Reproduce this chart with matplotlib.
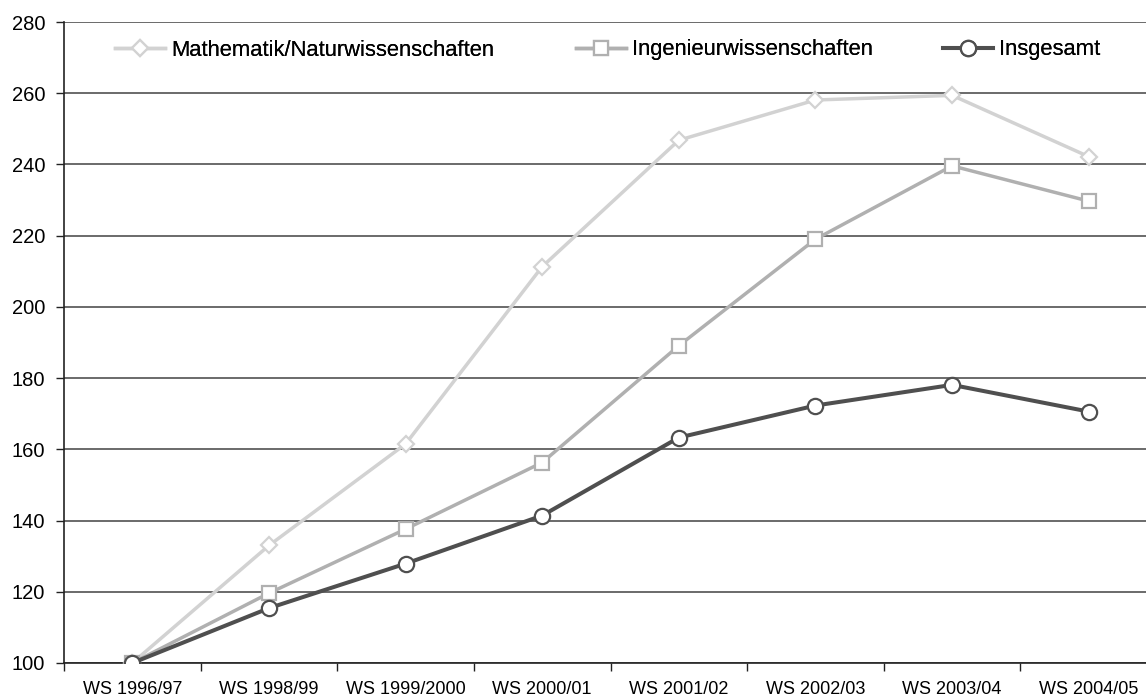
import matplotlib
matplotlib.use("Agg")
import matplotlib.pyplot as plt
import numpy as np

plt.rcParams['font.family'] = ['Liberation Sans', 'DejaVu Sans']

semesters = ["WS 1996/97", "WS 1998/99", "WS 1999/2000", "WS 2000/01",
             "WS 2001/02", "WS 2002/03", "WS 2003/04", "WS 2004/05"]
math_nat = [100, 133, 161.5, 211.3, 246.8, 258.1, 259.4, 242.2]
ingenieur = [100, 119.6, 137.6, 156.3, 189.1, 219.0, 239.6, 229.7]
insgesamt = [100, 115.4, 127.9, 141.4, 163.3, 172.3, 178.1, 170.6]

W, H = 1146, 697
fig = plt.figure(figsize=(W / 100, H / 100), dpi=100)
left, right, top, bottom = 64, 1157, 22, 663
ax = fig.add_axes([left / W, (H - bottom) / H, (right - left) / W, (bottom - top) / H])

x = np.arange(len(semesters))

series = [
    ("Mathematik/Naturwissenschaften", math_nat, "#d2d2d2", "D", 8.5, 2.5),
    ("Ingenieurwissenschaften", ingenieur, "#b0b0b0", "s", 10.5, 2.5),
    ("Insgesamt", insgesamt, "#4f4f4f", "o", 11, 2.9),
]
handles = []
for label, vals, col, mk, ms, lw in series:
    ln, = ax.plot(x, vals, color=col, lw=lw, marker=mk, ms=ms,
                  mfc="white", mec=col, mew=1.6, label=label, zorder=3,
                  solid_joinstyle="miter")
    handles.append(ln)

ax.set_xlim(-0.5, len(semesters) - 0.5)
ax.set_ylim(100, 280)
ax.set_yticks(np.arange(100, 281, 20))
ax.yaxis.grid(True, color="#6a6a6a", lw=1.4)
ax.set_axisbelow(True)

ax.set_xticks(x)
ax.set_xticklabels(semesters, fontsize=13)
ax.set_xticks(np.arange(-0.5, len(semesters) + 0.5, 1), minor=True)
ax.tick_params(axis="x", which="major", length=0, pad=13)
ax.tick_params(axis="x", which="minor", length=6, width=1, color="#222222")
ax.tick_params(axis="y", length=6, width=1, color="#222222", labelsize=14.5, pad=7.5)

for s in ["top", "right"]:
    ax.spines[s].set_visible(False)
ax.spines["left"].set_color("#222222")
ax.spines["bottom"].set_color("#222222")
ax.spines["left"].set_linewidth(1.2)
ax.spines["bottom"].set_linewidth(1.2)

# legend entries laid out along the top band of the plot
legend_pos = [115, 576, 943]
ly = (H - 50) / H
for h, px in zip(handles, legend_pos):
    lg = fig.legend(handles=[h], loc="center left", bbox_to_anchor=(px / W, ly),
                    frameon=False, fontsize=15.8, handlelength=2.28,
                    handletextpad=0.27, borderpad=0, borderaxespad=0)
    fig.add_artist(lg)

fig.savefig("out.png", dpi=100)
